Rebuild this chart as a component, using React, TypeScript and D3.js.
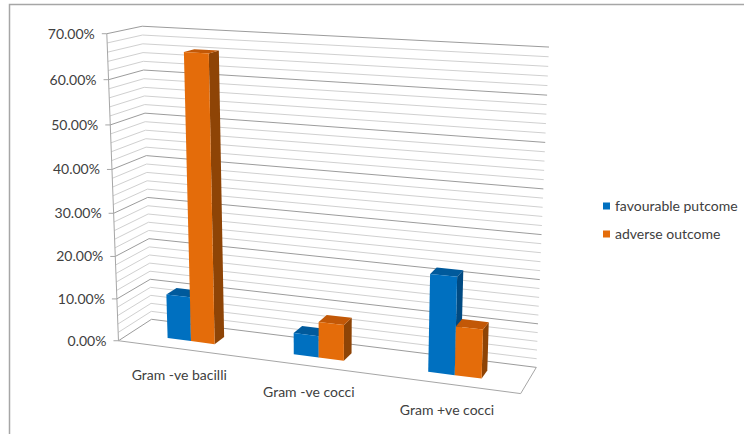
import React from "react";
import * as d3 from "d3";

const categories = ["Gram -ve bacilli", "Gram -ve cocci", "Gram +ve cocci"];
const seriesNames = ["favourable putcome", "adverse outcome"];
const favourable = [10.5, 5.0, 22.0];
const adverse = [66.2, 8.3, 11.0];
const yTicks = [0, 10, 20, 30, 40, 50, 60, 70];
const gridValues = d3.range(0, 71, 2);

const W = 744;
const H = 434;

// screen positions of the chart box corners: [X(category units), Y(0..1), Z(depth 0..1), u, v]
const corners: number[][] = [
  [0, 0, 0, 118, 341],
  [0, 1, 0, 107, 34],
  [0, 1, 1, 142, 26],
  [0, 0, 1, 152, 319],
  [3, 1, 1, 549, 47],
  [3, 0, 1, 536, 368],
  [3, 0, 0, 521, 393],
];

function solveDLT(pts: number[][]) {
  const rows: number[][] = [];
  const rhs: number[] = [];
  for (const [X, Y, Z, u, v] of pts) {
    rows.push([X, Y, Z, 1, 0, 0, 0, 0, -u * X, -u * Y, -u * Z]);
    rhs.push(u);
    rows.push([0, 0, 0, 0, X, Y, Z, 1, -v * X, -v * Y, -v * Z]);
    rhs.push(v);
  }
  const n = 11;
  const A: number[][] = Array.from({ length: n }, () => new Array(n + 1).fill(0));
  rows.forEach((r, k) => {
    for (let i = 0; i < n; i++) {
      for (let j = 0; j < n; j++) A[i][j] += r[i] * r[j];
      A[i][n] += r[i] * rhs[k];
    }
  });
  for (let c = 0; c < n; c++) {
    let piv = c;
    for (let r = c + 1; r < n; r++) if (Math.abs(A[r][c]) > Math.abs(A[piv][c])) piv = r;
    [A[c], A[piv]] = [A[piv], A[c]];
    for (let r = 0; r < n; r++) {
      if (r === c) continue;
      const f = A[r][c] / A[c][c];
      for (let j = c; j <= n; j++) A[r][j] -= f * A[c][j];
    }
  }
  return A.map((row, i) => row[n] / row[i]);
}

const P = solveDLT(corners);
const yScale = d3.scaleLinear().domain([0, 70]).range([0, 1]);

function proj(x: number, val: number, z: number): [number, number] {
  const Y = yScale(val);
  const w = P[8] * x + P[9] * Y + P[10] * z + 1;
  return [
    (P[0] * x + P[1] * Y + P[2] * z + P[3]) / w,
    (P[4] * x + P[5] * Y + P[6] * z + P[7]) / w,
  ];
}

const line = (a: [number, number], b: [number, number]) => `M${a[0]},${a[1]}L${b[0]},${b[1]}`;
const poly = (pts: [number, number][]) => "M" + pts.map((p) => p.join(",")).join("L") + "Z";

const colors = [
  { front: "#0070C0", top: "#005A9C", side: "#004A82" },
  { front: "#E46C0A", top: "#C25807", side: "#8E4406" },
];

const barW = 0.19;
const z0 = 0.34;
const z1 = 0.66;

export default function App() {
  const font = "Lato, 'Open Sans', sans-serif";
  const fs = 14;
  const bars: JSX.Element[] = [];
  categories.forEach((_, i) => {
    [favourable, adverse].forEach((series, s) => {
      const x0 = i + 0.5 - barW + s * barW;
      const x1 = x0 + barW;
      const v = series[i];
      const c = colors[s];
      bars.push(
        <g key={`b${i}-${s}`}>
          <path d={poly([proj(x1, 0, z0), proj(x1, 0, z1), proj(x1, v, z1), proj(x1, v, z0)])} fill={c.side} />
          <path d={poly([proj(x0, v, z0), proj(x1, v, z0), proj(x1, v, z1), proj(x0, v, z1)])} fill={c.top} />
          <path d={poly([proj(x0, 0, z0), proj(x1, 0, z0), proj(x1, v, z0), proj(x0, v, z0)])} fill={c.front} />
        </g>
      );
    });
  });

  return (
    <svg width={W} height={H} style={{ position: "absolute", left: 0, top: 0, background: "#fff" }}>
      <rect x={9.5} y={4.5} width={W + 20} height={H + 20} fill="#fff" stroke="#a6a6a6" strokeWidth={1.5} />
      {gridValues.map((v) => {
        const major = v % 10 === 0;
        return (
          <path
            key={`g${v}`}
            d={line(proj(0, v, 0), proj(0, v, 1)) + line(proj(0, v, 1), proj(3, v, 1)).replace("M", "L")}
            fill="none"
            stroke={major ? "#9c9c9c" : "#d0d0d0"}
            strokeWidth={1}
          />
        );
      })}
      <path d={line(proj(0, 0, 0), proj(3, 0, 0)) + line(proj(3, 0, 0), proj(3, 0, 1)).replace("M", "L")} fill="none" stroke="#a6a6a6" strokeWidth={1} />
      <path d={line(proj(0, 0, 0), proj(0, 70, 0))} fill="none" stroke="#a6a6a6" strokeWidth={1} />
      {yTicks.map((t) => {
        const [x, y] = proj(0, t, 0);
        return (
          <g key={`t${t}`}>
            <path d={`M${x - 5},${y}L${x},${y}`} stroke="#a6a6a6" strokeWidth={1} />
            <text x={x - 12} y={y} dy="0.35em" textAnchor="end" fontFamily={font} fontSize={fs} fill="#404040">
              {t.toFixed(2)}%
            </text>
          </g>
        );
      })}
      {bars}
      {categories.map((c, i) => {
        const [x, y] = proj(i + 0.5, 0, 0);
        return (
          <text key={c} x={x - 1} y={y + 26} dy="0.35em" textAnchor="middle" fontFamily={font} fontSize={fs} fill="#404040">
            {c}
          </text>
        );
      })}
      {seriesNames.map((n, s) => (
        <g key={n} transform={`translate(603,${206 + s * 28})`}>
          <rect x={0} y={-3.5} width={7} height={7} fill={colors[s].front} />
          <text x={12} y={0} dy="0.35em" fontFamily={font} fontSize={fs} fill="#404040">
            {n}
          </text>
        </g>
      ))}
    </svg>
  );
}
